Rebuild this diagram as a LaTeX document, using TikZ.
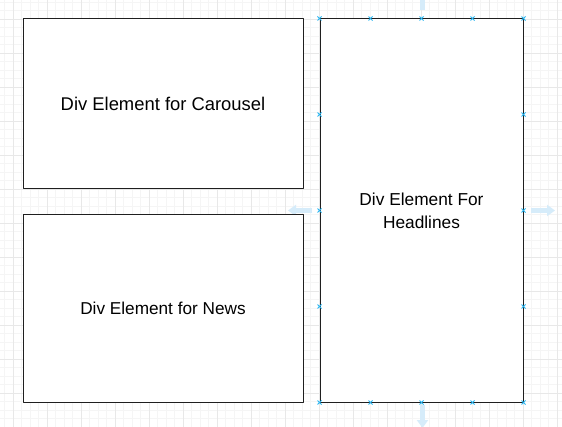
\documentclass[tikz,border=0pt]{standalone}
\usepackage{fontspec}
\setmainfont{Liberation Sans}
\usetikzlibrary{arrows.meta}
\definecolor{handleblue}{RGB}{41,182,242}
\definecolor{hoverblue}{RGB}{214,236,250}
\tikzset{
  gridminor/.style={draw=black!4,line width=0.8pt},
  gridmajor/.style={draw=black!9,line width=0.8pt},
  divbox/.style={draw=black!88,fill=white,line width=1pt,inner sep=0pt,align=center},
  handle/.style={draw=handleblue,line width=0.9pt},
  hoverarrow/.style={draw=hoverblue,line width=5pt,-{Triangle[width=11pt,length=8pt]}}
}
\newcommand{\divhandle}[1]{\draw[handle] ($(#1)+(-2,-2)$) -- ($(#1)+(2,2)$) ($(#1)+(-2,2)$) -- ($(#1)+(2,-2)$);}
\usetikzlibrary{calc}
\begin{document}
\begin{tikzpicture}[x=1pt,y=-1pt,line join=round]
\useasboundingbox (0,0) rectangle (562,427);
\fill[white] (0,0) rectangle (562,427);
\begin{scope}
\clip (0,0) rectangle (562,427);
% background grid
\foreach \i in {-1,...,64} \draw[gridminor] ({13.3+8.5*\i},0) -- ({13.3+8.5*\i},427);
\foreach \j in {-2,...,48} \draw[gridminor] (0,{19.3+8.5*\j}) -- (562,{19.3+8.5*\j});
\foreach \i in {0,...,16} \draw[gridmajor] ({13.3+34*\i},0) -- ({13.3+34*\i},427);
\foreach \j in {0,...,12} \draw[gridmajor] (0,{19.3+34*\j}) -- (562,{19.3+34*\j});
% hover arrows
\coordinate (upS) at (422.5,10);  \coordinate (upE) at (422.5,-12);
\coordinate (dnS) at (422.5,405); \coordinate (dnE) at (422.5,428);
\coordinate (lfS) at (312,210.5); \coordinate (lfE) at (288,210.5);
\coordinate (rtS) at (531,210.5); \coordinate (rtE) at (555,210.5);
\draw[hoverarrow] (upS) -- (upE);
\draw[hoverarrow] (dnS) -- (dnE);
\draw[hoverarrow] (lfS) -- (lfE);
\draw[hoverarrow] (rtS) -- (rtE);
\end{scope}
% div boxes
\node[divbox,minimum width=280pt,minimum height=170pt,font=\fontsize{18.4}{22}\selectfont] (carousel) at (163,104) {Div Element for Carousel};
\node[divbox,minimum width=280pt,minimum height=187pt,font=\fontsize{17.2}{22}\selectfont] (news) at (163,308.5) {Div Element for News};
\node[divbox,minimum width=203pt,minimum height=383pt,font=\fontsize{17.3}{23}\selectfont] (headlines) at (421.5,210.5) {Div Element For\\Headlines};
% selection handles
\foreach \t in {0,0.25,0.5,0.75,1} {
  \divhandle{$(headlines.north west)!\t!(headlines.north east)$}
  \divhandle{$(headlines.south west)!\t!(headlines.south east)$}
}
\foreach \t in {0.25,0.5,0.75} {
  \divhandle{$(headlines.north west)!\t!(headlines.south west)$}
  \divhandle{$(headlines.north east)!\t!(headlines.south east)$}
}
\end{tikzpicture}
\end{document}
